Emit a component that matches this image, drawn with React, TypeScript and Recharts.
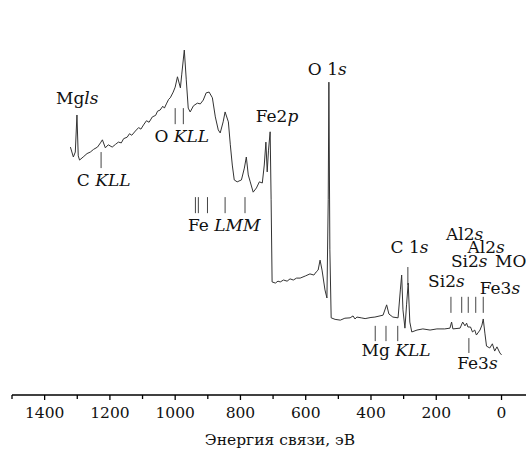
import { ComposedChart, Line, Scatter, XAxis, YAxis, ReferenceLine } from "recharts";

// binding energy, eV
const energies = [
  1321, 1312, 1306, 1301, 1297, 1293, 1282, 1270, 1260, 1250, 1238, 1229, 1223, 1214,
  1205, 1193, 1183, 1174, 1165, 1158, 1147, 1140, 1133, 1122, 1112, 1105, 1097, 1088,
  1080, 1070, 1060, 1054, 1046, 1038, 1033, 1027, 1020, 1015, 1006, 1000, 993, 984,
  980, 972, 966, 960, 954, 944, 932, 923, 914, 905, 896, 886, 877, 868, 862, 853, 847,
  837, 831, 825, 819, 810, 797, 788, 782, 776, 770, 761, 751, 742, 733, 727, 722, 718,
  714, 709, 706, 703, 693, 685, 678, 668, 657, 648, 638, 628, 617, 600, 587, 575, 568,
  562, 556, 550, 541, 535, 531, 529, 526, 522, 510, 494, 480, 464, 455, 449, 443, 430,
  418, 400, 388, 363, 352, 345, 333, 317, 310, 306, 302, 296, 291, 286, 281, 275, 259,
  241, 219, 198, 174, 158, 153, 149, 127, 119, 112, 107, 103, 95, 89, 82, 77, 66, 60,
  56, 51, 46, 36, 28, 21, 14, 5, 0,
];

// intensity, arb. units
const intensities = [
  64.9, 62.3, 63.6, 73.3, 62.6, 61.5, 62.3, 63.2, 63.6, 64.3, 64.9, 66.0, 66.8, 64.7,
  65.5, 64.9, 65.6, 66.2, 66.0, 67.1, 67.5, 68.4, 68.0, 69.1, 70.0, 69.6, 70.7, 71.8,
  71.4, 72.8, 73.2, 74.3, 74.6, 75.6, 75.1, 76.2, 77.4, 77.8, 79.3, 80.6, 83.3, 80.4,
  83.8, 90.3, 82.5, 75.1, 74.1, 75.7, 76.4, 76.2, 77.2, 79.1, 79.3, 77.8, 72.8, 69.4,
  68.6, 71.5, 74.1, 71.5, 65.5, 60.2, 56.3, 55.8, 56.3, 59.4, 62.3, 57.6, 55.8, 53.1,
  54.2, 55.8, 55.5, 60.2, 66.2, 58.4, 64.1, 68.9, 51.1, 29.6, 29.3, 29.8, 29.6, 30.1,
  29.8, 30.4, 30.1, 30.6, 30.6, 31.2, 31.7, 31.4, 32.2, 32.7, 35.3, 32.7, 27.5, 25.4,
  51.1, 81.9, 38.0, 20.2, 19.8, 19.6, 20.1, 20.2, 20.7, 19.9, 20.4, 20.2, 20.0, 20.3,
  20.4, 20.9, 23.6, 21.2, 20.4, 20.2, 27.5, 31.4, 22.3, 17.5, 23.6, 29.3, 19.1, 16.5,
  17.0, 17.3, 17.0, 17.3, 17.3, 17.5, 19.1, 17.3, 17.5, 19.1, 18.1, 18.8, 17.8, 17.8,
  16.5, 17.0, 15.7, 17.0, 18.3, 19.9, 16.2, 12.8, 12.3, 13.4, 11.5, 12.6, 11.0, 10.5,
];

const majorTicks = [1400, 1200, 1000, 800, 600, 400, 200, 0];
const allTicks = [1500, 1400, 1300, 1200, 1100, 1000, 900, 800, 700, 600, 500, 400, 300, 200, 100, 0];

// marker strokes: energies with the intensity span of the stroke
const markEnergies = [
  [1227],
  [1000, 975],
  [938, 929, 901, 847, 786],
  [387, 354, 318],
  [287],
  [155, 122, 102, 79, 56],
  [100],
];
const markTops = [63.6, 75.1, 51.8, 18.1, 33.5, 25.7, 14.9];
const markBottoms = [59.4, 70.9, 47.6, 14.1, 28.8, 21.5, 11.0];

// peak labels: [text, italic] runs
const labelParts: [string, boolean][][] = [
  [["Mg", false], ["ls", true]],
  [["C ", false], ["KLL", true]],
  [["O ", false], ["KLL", true]],
  [["Fe ", false], ["LMM", true]],
  [["Fe2", false], ["p", true]],
  [["O 1", false], ["s", true]],
  [["C 1", false], ["s", true]],
  [["Si2", false], ["s", true]],
  [["Al2", false], ["s", true]],
  [["Al2", false], ["s", true]],
  [["Si2", false], ["s", true]],
  [["MO", false]],
  [["Fe3", false], ["s", true]],
  [["Mg ", false], ["KLL", true]],
  [["Fe3", false], ["s", true]],
];
const labelEnergies = [1300, 1219, 980, 850, 688, 534, 282, 169, 113, 47, 99, 20, 5, 323, 74];
const labelLevels = [76.2, 54.7, 66.2, 42.9, 71.5, 83.8, 37.2, 28.3, 40.6, 37.2, 33.5, 33.5, 26.4, 10.2, 6.8];

const data = energies.map((e, k) => ({ e, i: intensities[k] }));
const labels = labelParts.map((parts, k) => ({
  e: labelEnergies[k],
  i: labelLevels[k],
  parts,
  anchor: parts[0][0] === "MO" ? "start" : "middle",
}));

const FONT = "DejaVu Serif";

function AxisTick(props: any) {
  const { x, y, payload } = props;
  const major = majorTicks.includes(payload.value);
  return (
    <g>
      <line x1={x} x2={x} y1={y} y2={y + (major ? 5 : 4)} stroke="#000" strokeWidth={1.3} />
      {major && (
        <text x={x} y={y + 23} textAnchor="middle" fontFamily={FONT} fontSize={15.5} fill="#111">
          {payload.value}
        </text>
      )}
    </g>
  );
}

function PeakLabel(props: any) {
  const { cx, cy, payload } = props;
  if (cx == null || cy == null) return null;
  return (
    <text x={cx} y={cy} textAnchor={payload.anchor} fontFamily={FONT} fontSize={17} fill="#111">
      {payload.parts.map(([t, it]: [string, boolean], k: number) => (
        <tspan key={k} fontStyle={it ? "italic" : "normal"}>
          {t}
        </tspan>
      ))}
    </text>
  );
}

export default function App() {
  return (
    <div style={{ position: "absolute", left: 0, top: 0 }}>
      <ComposedChart width={526} height={449} data={data} margin={{ top: 13, right: 0, left: 12, bottom: 0 }}>
        <XAxis
          dataKey="e"
          type="number"
          domain={[-75, 1500]}
          reversed
          allowDataOverflow
          ticks={allTicks}
          interval={0}
          height={54}
          tickLine={false}
          tickSize={0}
          tickMargin={0}
          tick={<AxisTick />}
          axisLine={{ stroke: "#000", strokeWidth: 1.6 }}
          label={(p: any) => {
            const vb = p.viewBox;
            return (
              <text
                x={vb.x + vb.width / 2 + 11}
                y={vb.y + 50}
                textAnchor="middle"
                fontFamily={FONT}
                fontSize={15.5}
                fill="#111"
              >
                Энергия связи, эВ
              </text>
            );
          }}
        />
        <YAxis
          type="number"
          domain={[0, 100]}
          width={0}
          tick={false}
          tickLine={false}
          axisLine={{ stroke: "#000", strokeWidth: 1.6 }}
        />
        {markEnergies.map((group, g) =>
          group.map((e) => (
            <ReferenceLine
              key={`${g}-${e}`}
              segment={[
                { x: e, y: markTops[g] },
                { x: e, y: markBottoms[g] },
              ]}
              stroke="#444"
              strokeWidth={1}
            />
          ))
        )}
        <Line dataKey="i" type="linear" stroke="#333" strokeWidth={1} dot={false} isAnimationActive={false} />
        <Scatter data={labels} dataKey="i" shape={<PeakLabel />} isAnimationActive={false} />
      </ComposedChart>
    </div>
  );
}
